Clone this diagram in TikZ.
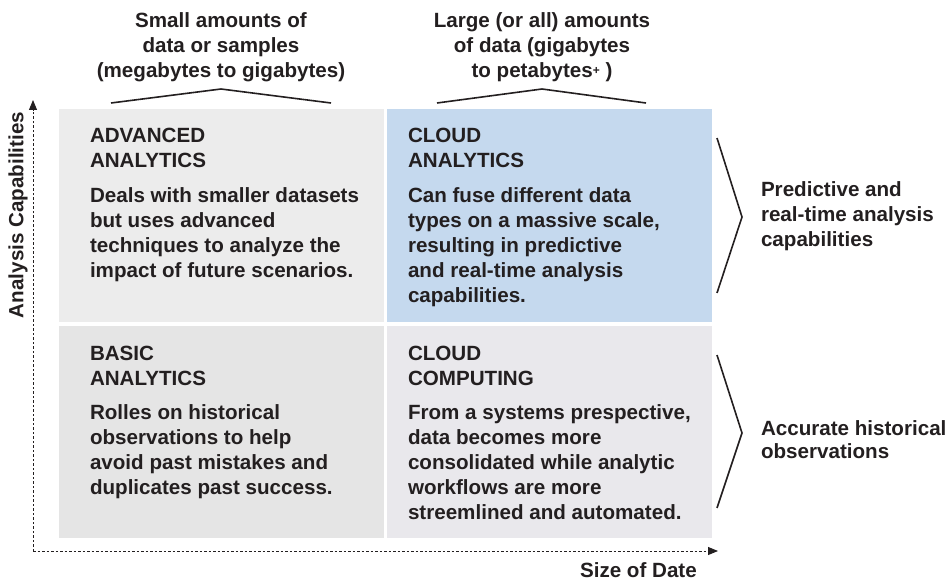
\documentclass[tikz,border=0pt]{standalone}
\usepackage{fontspec}
\setmainfont{Liberation Sans}
\usetikzlibrary{arrows.meta}
\definecolor{txt}{RGB}{35,31,32}
\definecolor{boxTL}{RGB}{236,236,236}
\definecolor{boxTR}{RGB}{197,217,238}
\definecolor{boxBL}{RGB}{229,229,229}
\definecolor{boxBR}{RGB}{233,232,236}
\tikzset{
  quad/.style={draw=none, inner sep=0, outer sep=0, minimum width=325pt, minimum height=213pt, anchor=north west},
  txtblock/.style={inner sep=0, outer sep=0, align=left, anchor=north west, text=txt, font=\fontsize{20.6}{25}\selectfont\bfseries},
  headtxt/.style={inner sep=0, outer sep=0, align=center, anchor=north, text=txt, font=\fontsize{20.6}{25}\selectfont\bfseries},
  bracketline/.style={line width=1.6pt, draw=txt, line join=miter},
  axisline/.style={line width=1pt, draw=txt, dash pattern=on 2.5pt off 2pt, -{Triangle[length=10pt,width=8pt]}}
}
\begin{document}
\begin{tikzpicture}[x=1pt,y=-1pt]
\useasboundingbox (0,0) rectangle (951,580);
% boxes
\node[quad, fill=boxTL] (tl) at (59,109) {};
\node[quad, fill=boxTR] (tr) at (387,109) {};
\node[quad, fill=boxBL, minimum height=212pt] (bl) at (59,326) {};
\node[quad, fill=boxBR, minimum height=212pt] (br) at (387,326) {};
% headers
\node[headtxt] (h1) at (221,9.9) {\strut Small amounts of\\data or samples\\(megabytes to gigabytes)};
\node[headtxt] (h2) at (542,9.9) {\strut Large (or all) amounts\\of data (gigabytes\\to petabytes{\fontsize{12}{12}\selectfont\raisebox{3pt}{+}} )};
% header brackets
\coordinate (b1a) at (111,103); \coordinate (b1b) at (221,89); \coordinate (b1c) at (331,103);
\coordinate (b2a) at (437,103); \coordinate (b2b) at (542,89); \coordinate (b2c) at (646,103);
\draw[bracketline] (b1a) -- (b1b) -- (b1c);
\draw[bracketline] (b2a) -- (b2b) -- (b2c);
% box texts
\node[txtblock] (tlt) at (90,124.9) {\strut ADVANCED\\ANALYTICS};
\node[txtblock] (tlb) at (90,184.9) {\strut Deals with smaller datasets\\but uses advanced\\techniques to analyze the\\impact of future scenarios.};
\node[txtblock] (trt) at (408,124.9) {\strut CLOUD\\ANALYTICS};
\node[txtblock] (trb) at (408,184.9) {\strut Can fuse different data\\types on a massive scale,\\resulting in predictive\\and real-time analysis\\capabilities.};
\node[txtblock] (blt) at (90,342.9) {\strut BASIC\\ANALYTICS};
\node[txtblock] (blb) at (90,401.9) {\strut Rolles on historical\\observations to help\\avoid past mistakes and\\duplicates past success.};
\node[txtblock] (brt) at (408,342.9) {\strut CLOUD\\COMPUTING};
\node[txtblock] (brb) at (408,401.9) {\strut From a systems prespective,\\data becomes more\\consolidated while analytic\\workflows are more\\streemlined and automated.};
% right brackets
\coordinate (r1a) at (717,138); \coordinate (r1b) at (742,217); \coordinate (r1c) at (717,293);
\coordinate (r2a) at (717,355); \coordinate (r2b) at (742,433); \coordinate (r2c) at (717,508);
\draw[bracketline] (r1a) -- (r1b) -- (r1c);
\draw[bracketline] (r2a) -- (r2b) -- (r2c);
\node[txtblock] (rl1) at (761,178.9) {\strut Predictive and\\real-time analysis\\capabilities};
\node[txtblock, font=\fontsize{20.6}{23}\selectfont\bfseries] (rl2) at (761,419.3) {\strut Accurate historical\\observations};
% axes
\coordinate (origin) at (33,551);
\coordinate (ytip) at (33,100);
\coordinate (xtip) at (718,551);
\draw[axisline] (origin) -- (ytip);
\draw[axisline] (origin) -- (xtip);
\node[inner sep=0, anchor=base east, text=txt, font=\fontsize{20.6}{25}\selectfont\bfseries] (xl) at (697,577) {Size of Date};
\node[inner sep=0, anchor=base, rotate=90, text=txt, font=\fontsize{20.6}{25}\selectfont\bfseries] (yl) at (23.4,215) {Analysis Capabilities};
\end{tikzpicture}
\end{document}
